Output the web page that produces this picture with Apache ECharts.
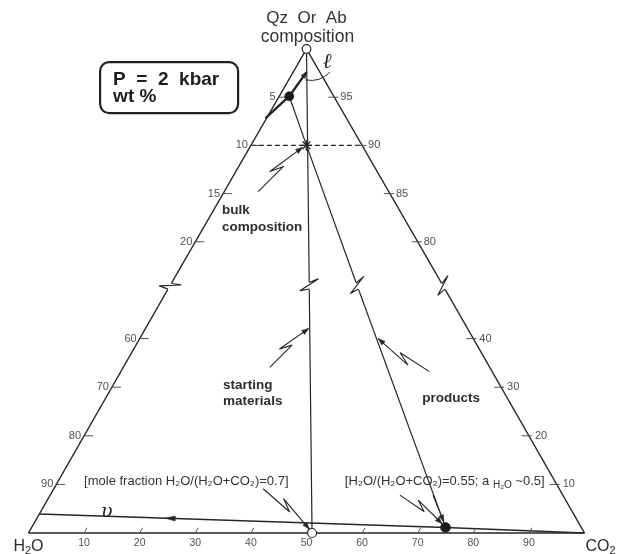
<!DOCTYPE html>
<html>
<head>
<meta charset="utf-8">
<script src="https://cdn.jsdelivr.net/npm/echarts@6.0.0/dist/echarts.min.js"></script>
<style>
html,body{margin:0;padding:0;background:#ffffff;}
#chart{width:618px;height:554px;}
</style>
</head>
<body>
<div id="chart"></div>
<script>
// ---------- data ----------
// x = wt% CO2 in the fluid (bottom edge H2O -> CO2)
// y = wt% fluid (H2O+CO2) in the charge (apex = 0, base = 100), drawn with a broken scale
const bottomTicks   = [10, 20, 30, 40, 50, 60, 70, 80, 90];
const fluidTicks    = [5, 10, 15, 20, 60, 70, 80, 90];      // left edge
const silicateTicks = [95, 90, 85, 80, 40, 30, 20, 10];     // right edge (wt% Qz Or Ab)
const upperLevels = [0, 25];     // part of the scale above the break
const lowerLevels = [50, 100];   // part of the scale below the break

const apex = [50, 0];
const h2oCorner = [0, 100];
const co2Corner = [100, 100];
const leftBreakX = 25;
const rightBreakX = 75;

const bulkComposition = [50, 10];
const liquid = [46.9, 4.9];
const vapor = [75, 98.85];
const startingFluid = [51, 100];
const startingBreakX = 50.5;
const productsBreakX = 59.4;
const liquidPath = [[50, 2.4], [46.9, 4.9], [42.6, 7.2]];
const vaporPath = [[1.95, 96.1], [75, 98.85], [100, 100]];
const vaporArrowAt = 0.31;

const bulkArrow = [[41.3, 14.8], [49.3, 10.2]];
const startingArrow = [[43.4, 65.9], [50.4, 57.9]];
const productsArrow = [[72.1, 66.8], [62.9, 60.0]];
const note07Arrow = [[42.2, 90.9], [50.5, 99.2]];
const note055Bolt = [[66.8, 92.2], [74.4, 98.1]];
const note055Line = [[72.75, 92.2], [74.7, 97.7]];

const liquidLabelAt = [53.7, 1.4];
const liquidLeader = [[54.2, 2.4], [52.4, 3.5], [49.8, 3.2]];
const vaporLabelAt = [14.1, 95.7];
const bulkLabelAt = [34.8, 15.8];
const startingLabelAt = [35.0, 67.9];
const productsLabelAt = [70.8, 72.2];
const note07At = [10.0, 89.3];
const note055At = [56.9, 89.3];

// ---------- drawing ----------
const INK = '#262626';
const TICKC = '#505050';
const FONT = '"Liberation Sans", Arial, Helvetica, sans-serif';
const SERIF = '"DejaVu Serif", "Liberation Serif", serif';

function kit(api, kids) {
  const c = p => api.coord(p);
  const norm = v => { const L = Math.hypot(v[0], v[1]) || 1; return [v[0] / L, v[1] / L]; };
  const add = (a, b, s) => [a[0] + b[0] * (s === undefined ? 1 : s), a[1] + b[1] * (s === undefined ? 1 : s)];
  const K = { c, norm, add };
  K.poly = (pts, w, dash, color) => kids.push({
    type: 'polyline', shape: { points: pts },
    style: { stroke: color || INK, lineWidth: w || 1.2, fill: 'none', lineDash: dash || null, lineJoin: 'round' }
  });
  K.polyData = (pts, w, dash) => K.poly(pts.map(c), w, dash);
  K.onSeg = (a, b, level) => {
    const A = c(a), B = c(b), y = c([a[0], level])[1];
    const t = (y - A[1]) / (B[1] - A[1]);
    return [A[0] + t * (B[0] - A[0]), y];
  };
  K.head = (tip, u, len, hw) => {
    len = len || 7; hw = hw || 2.5;
    const n = [-u[1], u[0]];
    const b = add(tip, u, -len);
    kids.push({ type: 'polygon', shape: { points: [tip, add(b, n, hw), add(b, n, -hw)] },
      style: { fill: INK, stroke: INK, lineWidth: 0.5 } });
  };
  K.dot = (p, r, open) => kids.push({ type: 'circle', shape: { cx: p[0], cy: p[1], r: r },
    style: open ? { fill: '#fff', stroke: INK, lineWidth: 1.2 } : { fill: '#1b1b1b', stroke: '#1b1b1b', lineWidth: 0.5 } });
  K.text = (p, text, st) => kids.push({ type: 'text', x: p[0], y: p[1],
    style: Object.assign({ text: text, fill: '#2b2b2b', fontSize: 11, fontFamily: FONT }, st) });
  K.zig = (prev, end) => {
    const d = norm([end[0] - prev[0], end[1] - prev[1]]);
    const n = [d[1], -d[0]];
    const C = add(end, d, -4);
    kids.push({ type: 'polyline', shape: { points: [add(C, d, -4), add(C, d, 3.5)] },
      style: { stroke: '#fff', lineWidth: 4, fill: 'none' } });
    K.poly([add(C, d, -3.5), add(add(C, d, -7), n, 9), add(add(C, d, 4.5), n, -9), add(C, d, 3)], 1.2);
  };
  K.bolt = (tail, tip) => {
    const T = c(tail), H = c(tip);
    const v = [H[0] - T[0], H[1] - T[1]];
    const L = Math.hypot(v[0], v[1]);
    const u = [v[0] / L, v[1] / L];
    const n = [-u[1], u[0]];
    const at = (s, o) => [T[0] + u[0] * s * L + n[0] * o, T[1] + u[1] * s * L + n[1] * o];
    const m2 = at(0.36, -6);
    K.poly([T, at(0.57, 0), m2, H], 1.1);
    K.head(H, norm([H[0] - m2[0], H[1] - m2[1]]));
  };
  K.star = (p, r) => {
    for (let k = 0; k < 4; k++) {
      const a = k * Math.PI / 4;
      K.poly([[p[0] - r * Math.cos(a), p[1] - r * Math.sin(a)], [p[0] + r * Math.cos(a), p[1] + r * Math.sin(a)]], 1.3);
    }
  };
  return K;
}

function renderUpper(params, api) {
  const kids = [];
  const K = kit(api, kids), c = K.c;
  const top = upperLevels[1];
  const leftSide = [apex, [leftBreakX, top]];
  const rightSide = [apex, [rightBreakX, top]];
  const startLine = [apex, [startingBreakX, top]];
  const prodLine = [liquid, bulkComposition, [productsBreakX, top]];

  K.polyData(leftSide, 1.5);
  K.polyData(rightSide, 1.5);
  K.polyData(startLine, 1.2);
  K.polyData(prodLine, 1.2);

  // bulk composition level, dashed across the triangle
  K.poly([K.onSeg(leftSide[0], leftSide[1], bulkComposition[1]),
          K.onSeg(rightSide[0], rightSide[1], bulkComposition[1])], 1.2, [5, 3]);

  // liquid path
  K.polyData(liquidPath, 2.4);
  const lp0 = c(liquidPath[0]), lp1 = c(liquidPath[1]);
  K.head(lp0, K.norm([lp0[0] - lp1[0], lp0[1] - lp1[1]]), 6, 2.4);

  // edge ticks
  fluidTicks.filter(v => v <= top).forEach(v => {
    const p = K.onSeg(leftSide[0], leftSide[1], v);
    K.poly([p, [p[0] + 9, p[1]]], 1, null, TICKC);
    K.text([p[0] - 3, p[1]], String(v), { align: 'right', verticalAlign: 'middle', fill: TICKC, fontSize: 11 });
  });
  silicateTicks.filter(s => 100 - s <= top).forEach(s => {
    const p = K.onSeg(rightSide[0], rightSide[1], 100 - s);
    K.poly([[p[0] - 6, p[1]], [p[0] + 4, p[1]]], 1, null, TICKC);
    K.text([p[0] + 6, p[1]], String(s), { align: 'left', verticalAlign: 'middle', fill: TICKC, fontSize: 11 });
  });

  // break marks
  [leftSide, rightSide, startLine, prodLine].forEach(l => K.zig(c(l[l.length - 2]), c(l[l.length - 1])));

  // points
  K.star(c(bulkComposition), 5.5);
  K.dot(c(liquid), 4.6, false);
  K.dot(c(apex), 4.3, true);

  // arrows & labels
  K.bolt(bulkArrow[0], bulkArrow[1]);
  const A = c(liquidLeader[0]), Q = c(liquidLeader[1]), B = c(liquidLeader[2]);
  kids.push({ type: 'bezierCurve', shape: { x1: A[0], y1: A[1], cpx1: Q[0], cpy1: Q[1], x2: B[0], y2: B[1] },
    style: { stroke: INK, lineWidth: 1, fill: 'none' } });
  K.text(c(liquidLabelAt), 'ℓ', { fontSize: 21, fontFamily: SERIF, fontStyle: 'italic', align: 'center', verticalAlign: 'middle', fill: '#222' });

  const ap = c(apex);
  K.text([ap[0], ap[1] - 30.5], 'Qz  Or  Ab', { fontSize: 17, align: 'center', verticalAlign: 'middle', fill: '#333' });
  K.text([ap[0] + 1, ap[1] - 12], 'composition', { fontSize: 17.5, align: 'center', verticalAlign: 'middle', fill: '#333' });

  K.text(c(bulkLabelAt), 'bulk\ncomposition', { fontSize: 13.5, fontWeight: 'bold', lineHeight: 17, align: 'left', verticalAlign: 'top', fill: '#2e2e2e' });

  return { type: 'group', children: kids };
}

function renderLower(params, api) {
  const kids = [];
  const K = kit(api, kids), c = K.c;
  const bot = lowerLevels[0];
  const leftSide = [[leftBreakX, bot], h2oCorner];
  const rightSide = [[rightBreakX, bot], co2Corner];

  K.polyData(leftSide, 1.5);
  K.polyData(rightSide, 1.5);
  K.polyData([h2oCorner, co2Corner], 1.5);
  K.polyData([[startingBreakX, bot], startingFluid], 1.2);
  K.polyData([[productsBreakX, bot], vapor], 1.2);
  K.polyData(vaporPath, 1.5);

  // arrow on the vapour path, pointing back towards H2O
  const a0 = c(vaporPath[0]), a1 = c(vaporPath[1]);
  const pa = [a0[0] + vaporArrowAt * (a1[0] - a0[0]), a0[1] + vaporArrowAt * (a1[1] - a0[1])];
  K.head(pa, K.norm([a0[0] - a1[0], a0[1] - a1[1]]), 10, 2.6);

  // edge ticks
  fluidTicks.filter(v => v >= bot).forEach(v => {
    const p = K.onSeg(leftSide[0], leftSide[1], v);
    K.poly([p, [p[0] + 9, p[1]]], 1, null, TICKC);
    K.text([p[0] - 3, p[1]], String(v), { align: 'right', verticalAlign: 'middle', fill: TICKC, fontSize: 11 });
  });
  silicateTicks.filter(s => 100 - s >= bot).forEach(s => {
    const p = K.onSeg(rightSide[0], rightSide[1], 100 - s);
    K.poly([[p[0] - 7, p[1]], [p[0] + 3, p[1]]], 1, null, TICKC);
    K.text([p[0] + 6, p[1]], String(s), { align: 'left', verticalAlign: 'middle', fill: TICKC, fontSize: 11 });
  });
  const lc = c(h2oCorner), lb = c(leftSide[0]);
  const tdir = K.norm([lb[0] - lc[0], lb[1] - lc[1]]);
  bottomTicks.forEach(f => {
    const p = c([f, 100]);
    K.poly([p, K.add(p, tdir, 6)], 1, null, TICKC);
    K.text([p[0], p[1] + 10.5], String(f), { align: 'center', verticalAlign: 'middle', fill: TICKC, fontSize: 10.5 });
  });

  // points
  K.dot(c(vapor), 5, false);
  K.dot(c(startingFluid), 4.5, true);

  // arrows
  K.bolt(startingArrow[0], startingArrow[1]);
  K.bolt(productsArrow[0], productsArrow[1]);
  K.bolt(note07Arrow[0], note07Arrow[1]);
  K.bolt(note055Bolt[0], note055Bolt[1]);
  const s0 = c(note055Line[0]), s1 = c(note055Line[1]);
  K.poly([s0, s1], 1.1);
  K.head(s1, K.norm([s1[0] - s0[0], s1[1] - s0[1]]));

  // labels
  K.text(c(vaporLabelAt), 'υ', { fontSize: 19, fontFamily: SERIF, fontStyle: 'italic', align: 'center', verticalAlign: 'middle', fill: '#222' });
  K.text(c(startingLabelAt), 'starting\nmaterials', { fontSize: 13.5, fontWeight: 'bold', lineHeight: 16, align: 'left', verticalAlign: 'top', fill: '#2e2e2e' });
  K.text(c(productsLabelAt), 'products', { fontSize: 13.5, fontWeight: 'bold', align: 'left', verticalAlign: 'middle', fill: '#2e2e2e' });
  K.text(c(note07At), '[mole fraction H₂O/(H₂O+CO₂)=0.7]', { fontSize: 13, align: 'left', verticalAlign: 'middle', fill: '#333' });
  K.text(c(note055At), '{n|[H₂O/(H₂O+CO₂)=0.55; a }{s|H₂O}{n| ~0.5]}', {
    align: 'left', verticalAlign: 'middle', fill: '#333',
    rich: {
      n: { fontSize: 13, lineHeight: 18, fontFamily: FONT, fill: '#333', verticalAlign: 'middle' },
      s: { fontSize: 10, lineHeight: 10, fontFamily: FONT, fill: '#333', verticalAlign: 'bottom' }
    }
  });

  const cw = c(h2oCorner), cc = c(co2Corner);
  const cornerRich = {
    b: { fontSize: 16, lineHeight: 18, fontFamily: FONT, fill: '#2b2b2b', verticalAlign: 'middle' },
    s: { fontSize: 11, lineHeight: 11, fontFamily: FONT, fill: '#2b2b2b', verticalAlign: 'bottom' }
  };
  K.text([cw[0], cw[1] + 14], '{b|H}{s|2}{b|O}', { align: 'center', verticalAlign: 'middle', rich: cornerRich });
  K.text([cc[0] + 16, cc[1] + 14], '{b|CO}{s|2}', { align: 'center', verticalAlign: 'middle', rich: cornerRich });

  return { type: 'group', children: kids };
}

const chart = echarts.init(document.getElementById('chart'), null, { renderer: 'canvas' });
chart.setOption({
  animation: false,
  backgroundColor: '#ffffff',
  grid: [
    { left: 28.5, width: 556, top: 49, height: 241 },
    { left: 28.5, width: 556, top: 290, height: 243 }
  ],
  xAxis: [
    { type: 'value', gridIndex: 0, min: 0, max: 100, show: false },
    { type: 'value', gridIndex: 1, min: 0, max: 100, show: false }
  ],
  yAxis: [
    { type: 'value', gridIndex: 0, min: upperLevels[0], max: upperLevels[1], inverse: true, show: false },
    { type: 'value', gridIndex: 1, min: lowerLevels[0], max: lowerLevels[1], inverse: true, show: false }
  ],
  graphic: [{
    type: 'group', left: 99, top: 61, silent: true,
    children: [
      { type: 'rect', shape: { x: 0, y: 0, width: 138, height: 51, r: 9 }, style: { fill: '#fff', stroke: '#222', lineWidth: 2.2 } },
      { type: 'text', x: 13, y: 18, style: { text: 'P  =  2  kbar', fill: '#1e1e1e', fontSize: 19, fontWeight: 'bold', fontFamily: FONT, verticalAlign: 'middle' } },
      { type: 'text', x: 13, y: 35, style: { text: 'wt %', fill: '#1e1e1e', fontSize: 19, fontWeight: 'bold', fontFamily: FONT, verticalAlign: 'middle' } }
    ]
  }],
  series: [
    { type: 'custom', xAxisIndex: 0, yAxisIndex: 0, data: [[0, 0]], renderItem: renderUpper, clip: false, silent: true },
    { type: 'custom', xAxisIndex: 1, yAxisIndex: 1, data: [[0, 0]], renderItem: renderLower, clip: false, silent: true }
  ]
});
</script>
</body>
</html>
